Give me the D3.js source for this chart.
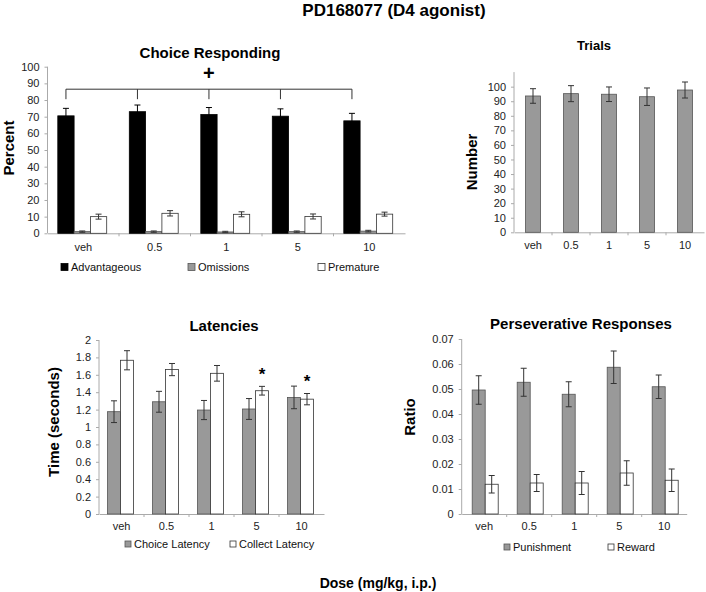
<!DOCTYPE html>
<html><head><meta charset="utf-8">
<script src="https://cdn.jsdelivr.net/npm/d3@7"></script>
<style>
body{margin:0;background:#fff;}
svg{display:block;font-family:Arial,"Liberation Sans",sans-serif;}
</style></head>
<body>
<svg id="c" width="706" height="592"></svg>
<script>
// ---- data ----
const doses = ["veh", "0.5", "1", "5", "10"];

const advantageous    = [70.5, 73.0, 71.3, 70.3, 67.5];
const advantageousErr = [4.5, 4.0, 4.2, 4.4, 4.5];
const omissions       = [1.0, 1.0, 0.8, 1.0, 1.3];
const omissionsErr    = [0.4, 0.4, 0.4, 0.4, 0.5];
const premature       = [10.0, 12.0, 11.4, 10.1, 11.5];
const prematureErr    = [1.5, 1.6, 1.5, 1.5, 1.2];

const trials    = [93.6, 95.2, 94.8, 93.1, 97.7];
const trialsErr = [5.0, 5.5, 5.0, 6.0, 5.5];

const choiceLatency     = [1.176, 1.29, 1.195, 1.207, 1.34];
const choiceLatencyErr  = [0.125, 0.12, 0.11, 0.12, 0.13];
const collectLatency    = [1.767, 1.66, 1.617, 1.417, 1.32];
const collectLatencyErr = [0.11, 0.07, 0.09, 0.05, 0.065];

const punishment    = [0.0496, 0.0527, 0.0479, 0.0587, 0.0509];
const punishmentErr = [0.0057, 0.0056, 0.005, 0.0065, 0.0047];
const reward        = [0.0119, 0.0124, 0.0124, 0.0164, 0.0135];
const rewardErr     = [0.0035, 0.0034, 0.0046, 0.0049, 0.0045];

const percentTicks = [0, 10, 20, 30, 40, 50, 60, 70, 80, 90, 100];
const numberTicks  = [0, 10, 20, 30, 40, 50, 60, 70, 80, 90, 100];
const timeTicks    = [0, 0.2, 0.4, 0.6, 0.8, 1, 1.2, 1.4, 1.6, 1.8, 2];
const ratioTicks   = [0, 0.01, 0.02, 0.03, 0.04, 0.05, 0.06, 0.07];

// significance marks
const bracketLevel = 86.5, bracketDrop = 80.5, plusLevel = 96;   // Choice Responding
const starDoses = ["5", "10"];                                    // Latencies (collect)

// ---- drawing ----
const svg = d3.select("#c");
const FILL = {black: "#000", gray: "#999", white: "#fff"};
const STROKE = {black: "#000", gray: "#555", white: "#333"};

function panel(cfg) {
  const g = svg.append("g");
  const x = d3.scaleBand().domain(doses).range([cfg.x0, cfg.x1]);
  const y = d3.scaleLinear().domain([0, cfg.ymax]).range([cfg.y0, cfg.yTop]);
  const inner = d3.scaleBand().domain(cfg.series.map((s, i) => i))
    .range([0, cfg.barW * cfg.series.length]);
  const off = (x.bandwidth() - cfg.barW * cfg.series.length) / 2 + (cfg.shift || 0);

  // y axis
  const ya = g.append("g").attr("transform", `translate(${cfg.x0},0)`)
    .call(d3.axisLeft(y).tickValues(cfg.ticks).tickSize(3).tickPadding(5)
      .tickFormat(d => String(+d.toFixed(3))));
  ya.select(".domain").attr("stroke", "#aaa").attr("d", `M-0,${cfg.y0}V${cfg.yTop}`);
  ya.selectAll(".tick line").attr("stroke", "#aaa");
  ya.selectAll("text").attr("fill", "#222").style("font-size", "11px");

  // x axis
  const xa = g.append("g").attr("transform", `translate(0,${cfg.y0})`)
    .call(d3.axisBottom(x).tickSize(0).tickPadding(cfg.xpad));
  xa.select(".domain").attr("stroke", "#aaa");
  xa.selectAll("text").attr("fill", "#222").style("font-size", "11px");
  g.selectAll(".sep").data(doses.slice(1)).enter().append("line")
    .attr("x1", d => x(d)).attr("x2", d => x(d))
    .attr("y1", cfg.y0).attr("y2", cfg.y0 + 3).attr("stroke", "#aaa");

  // bars
  cfg.series.forEach((s, i) => {
    const sg = g.append("g");
    sg.selectAll("rect").data(s.values).enter().append("rect")
      .attr("x", (d, j) => x(doses[j]) + off + inner(i))
      .attr("width", inner.bandwidth())
      .attr("y", d => y(d)).attr("height", d => y(0) - y(d))
      .attr("fill", FILL[s.color]).attr("stroke", STROKE[s.color]).attr("stroke-width", 0.8);
    // error bars
    const eb = sg.selectAll(".eb").data(s.values).enter().append("g");
    const cx = (j) => x(doses[j]) + off + inner(i) + inner.bandwidth() / 2;
    const ec = s.color === "black" ? "#000" : "#333";
    eb.append("line").attr("x1", (d, j) => cx(j)).attr("x2", (d, j) => cx(j))
      .attr("y1", (d, j) => y(d - s.err[j])).attr("y2", (d, j) => y(d + s.err[j]))
      .attr("stroke", ec).attr("stroke-width", 1);
    [1, -1].forEach(sign => {
      eb.append("line").attr("x1", (d, j) => cx(j) - 3).attr("x2", (d, j) => cx(j) + 3)
        .attr("y1", (d, j) => y(d + sign * s.err[j])).attr("y2", (d, j) => y(d + sign * s.err[j]))
        .attr("stroke", ec).attr("stroke-width", 1);
    });
  });

  // title
  g.append("text").attr("x", cfg.titleX).attr("y", cfg.titleY).attr("text-anchor", "middle")
    .attr("dominant-baseline", "central").style("font-weight", "bold")
    .style("font-size", cfg.titleSize + "px").text(cfg.title);
  // y label
  g.append("text").attr("transform", `translate(${cfg.ylabX},${cfg.ylabY}) rotate(-90)`)
    .attr("text-anchor", "middle").attr("dominant-baseline", "central")
    .style("font-weight", "bold").style("font-size", "15px").text(cfg.ylab);
  // legend
  if (cfg.legend) {
    cfg.series.forEach((s, i) => {
      const L = cfg.legend[i];
      g.append("rect").attr("x", L[0]).attr("y", cfg.legY - cfg.sq / 2)
        .attr("width", cfg.sq).attr("height", cfg.sq)
        .attr("fill", FILL[s.color]).attr("stroke", STROKE[s.color]).attr("stroke-width", 0.8);
      g.append("text").attr("x", L[0] + cfg.sq + 3).attr("y", cfg.legY)
        .attr("dominant-baseline", "central").style("font-size", "11px").attr("fill", "#111")
        .text(s.name);
    });
  }
  return {g, x, y, inner, off};
}

// main title
svg.append("text").attr("x", 394).attr("y", 10).attr("text-anchor", "middle")
  .attr("dominant-baseline", "central").style("font-weight", "bold").style("font-size", "17px")
  .text("PD168077 (D4 agonist)");
svg.append("text").attr("x", 378).attr("y", 583).attr("text-anchor", "middle")
  .attr("dominant-baseline", "central").style("font-weight", "bold").style("font-size", "14px")
  .text("Dose (mg/kg, i.p.)");

// Choice Responding
const p1 = panel({
  x0: 47.5, x1: 405, y0: 233.3, yTop: 66.7, ymax: 100, ticks: percentTicks, xpad: 10,
  barW: 16.3, shift: -1,
  series: [
    {name: "Advantageous", values: advantageous, err: advantageousErr, color: "black"},
    {name: "Omissions", values: omissions, err: omissionsErr, color: "gray"},
    {name: "Premature", values: premature, err: prematureErr, color: "white"}],
  title: "Choice Responding", titleX: 210, titleY: 52, titleSize: 15,
  ylab: "Percent", ylabX: 8, ylabY: 148,
  legend: [[61], [188], [318]], legY: 267, sq: 7
});
{
  const {g, x, y, inner, off} = p1;
  const cx = d => x(d) + off + inner(0) + inner.bandwidth() / 2;
  g.append("line").attr("x1", cx(doses[0])).attr("x2", cx(doses[4]))
    .attr("y1", y(bracketLevel)).attr("y2", y(bracketLevel)).attr("stroke", "#333").attr("stroke-width", 1);
  g.selectAll(".drop").data(doses).enter().append("line")
    .attr("x1", d => cx(d)).attr("x2", d => cx(d))
    .attr("y1", y(bracketLevel)).attr("y2", y(bracketDrop)).attr("stroke", "#333");
  g.append("text").attr("x", cx("1")).attr("y", y(plusLevel)).attr("text-anchor", "middle")
    .attr("dominant-baseline", "central").style("font-weight", "bold").style("font-size", "20px").text("+");
}

// Trials
panel({
  x0: 514, x1: 704, y0: 232.3, yTop: 72.1, ymax: 110, ticks: numberTicks, xpad: 9,
  barW: 15,
  series: [{name: "Trials", values: trials, err: trialsErr, color: "gray"}],
  title: "Trials", titleX: 594, titleY: 45, titleSize: 13,
  ylab: "Number", ylabX: 471, ylabY: 162
});

// Latencies
const p3 = panel({
  x0: 99, x1: 324, y0: 514, yTop: 340, ymax: 2, ticks: timeTicks, xpad: 8.5,
  barW: 13, shift: -1,
  series: [
    {name: "Choice Latency", values: choiceLatency, err: choiceLatencyErr, color: "gray"},
    {name: "Collect Latency", values: collectLatency, err: collectLatencyErr, color: "white"}],
  title: "Latencies", titleX: 224, titleY: 325, titleSize: 15,
  ylab: "Time (seconds)", ylabX: 53, ylabY: 422,
  legend: [[125], [230]], legY: 544, sq: 6
});
{
  const {g, x, y, inner, off} = p3;
  g.selectAll(".star").data(starDoses).enter().append("text")
    .attr("x", d => x(d) + off + inner(1) + inner.bandwidth() / 2)
    .attr("y", d => { const j = doses.indexOf(d); return y(collectLatency[j] + collectLatencyErr[j]) - 12; })
    .attr("text-anchor", "middle").attr("dominant-baseline", "central")
    .style("font-weight", "bold").style("font-size", "17px").text("*");
}

// Perseverative Responses
panel({
  x0: 461.7, x1: 686.7, y0: 514, yTop: 339, ymax: 0.07, ticks: ratioTicks, xpad: 8.5,
  barW: 13, shift: 1,
  series: [
    {name: "Punishment", values: punishment, err: punishmentErr, color: "gray"},
    {name: "Reward", values: reward, err: rewardErr, color: "white"}],
  title: "Perseverative Responses", titleX: 581, titleY: 323, titleSize: 15,
  ylab: "Ratio", ylabX: 409, ylabY: 417,
  legend: [[504], [608]], legY: 547, sq: 6
});
</script>
</body></html>
